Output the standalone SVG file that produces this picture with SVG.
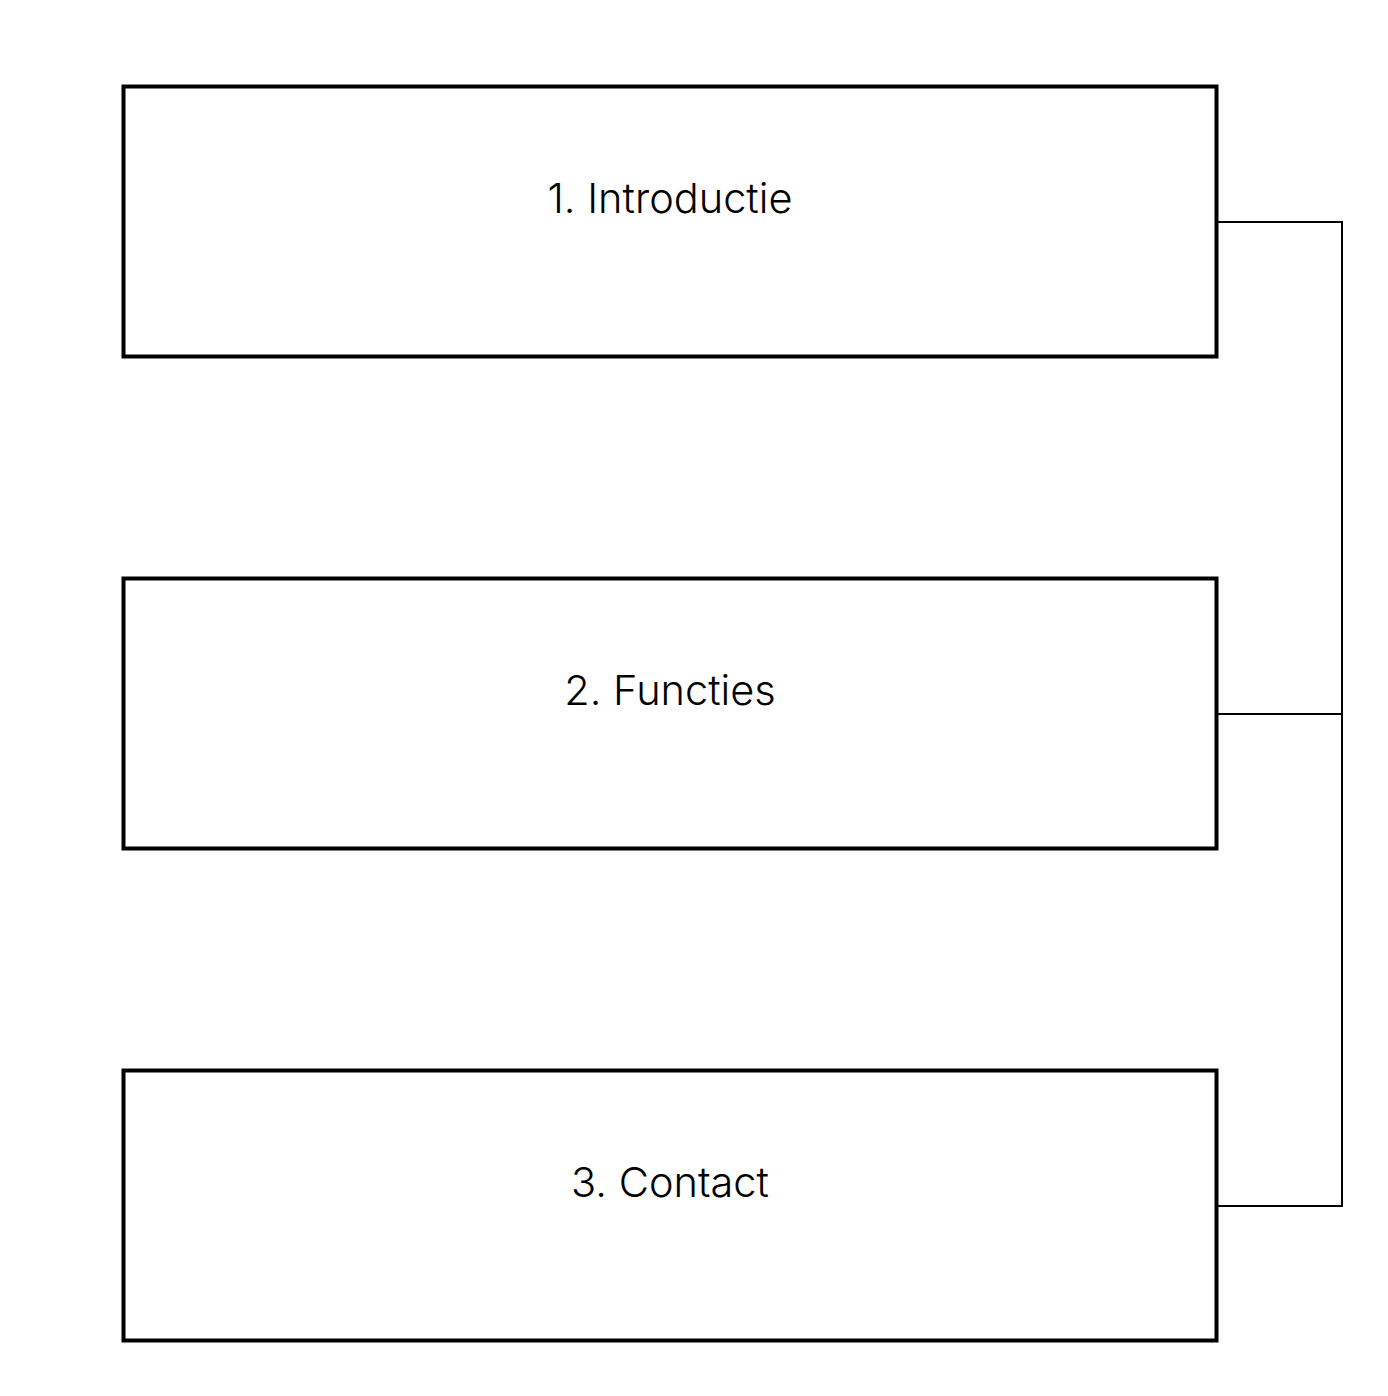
<svg xmlns="http://www.w3.org/2000/svg" width="1388" height="1396" viewBox="0 0 1388 1396">
<style>
.box{fill:#fff;stroke:#000;stroke-width:4}
.lbl{font-family:Inter,"Liberation Sans",sans-serif;font-weight:300;font-size:41.5px;fill:#000;text-anchor:middle}
.conn{fill:none;stroke:#000;stroke-width:2}
</style>
<rect width="1388" height="1396" fill="#fff"/>
<g id="connectors">
<path class="conn" d="M1218 222H1342V1206H1218M1218 714H1342"/>
</g>
<g id="node1">
<rect class="box" x="123.5" y="86.5" width="1093" height="270"/>
<text class="lbl" x="670" y="213">1. Introductie</text>
</g>
<g id="node2">
<rect class="box" x="123.5" y="578.5" width="1093" height="270"/>
<text class="lbl" x="670" y="705">2. Functies</text>
</g>
<g id="node3">
<rect class="box" x="123.5" y="1070.5" width="1093" height="270"/>
<text class="lbl" x="670" y="1197">3. Contact</text>
</g>
</svg>
